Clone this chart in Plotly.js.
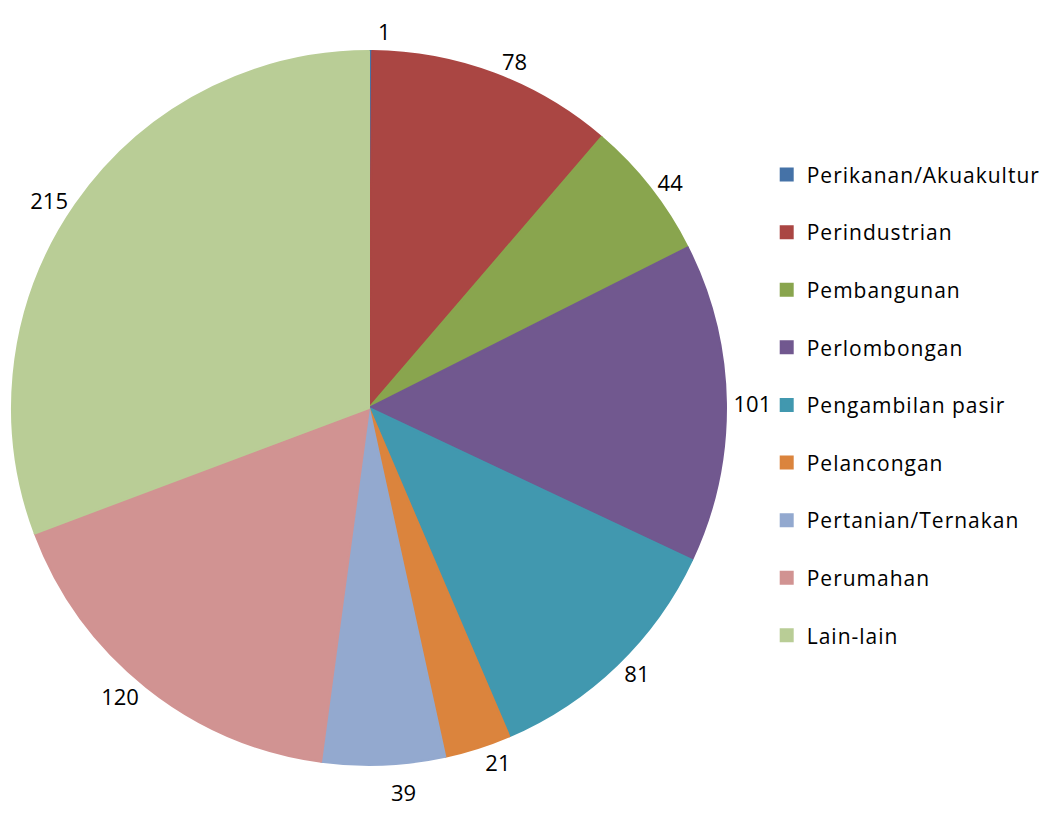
<!DOCTYPE html>
<html>
<head>
<meta charset="utf-8">
<script src="https://cdn.plot.ly/plotly-3.0.1.min.js"></script>
<style>
html,body{margin:0;padding:0;background:#fff;}
#chart{width:1051px;height:817px;}
.legendtext{letter-spacing:1px;}
path.textline{stroke:none !important;}
</style>
</head>
<body>
<div id="chart"></div>
<script>
var categories = ["Perikanan/Akuakultur","Perindustrian","Pembangunan","Perlombongan","Pengambilan pasir","Pelancongan","Pertanian/Ternakan","Perumahan","Lain-lain"];
var counts = [1, 78, 44, 101, 81, 21, 39, 120, 215];
var colors = ["#4572A7","#AA4643","#89A54E","#71588F","#4198AF","#DB843D","#93A9CF","#D19392","#B9CD96"];

var legendLabels = categories.map(function(c){ return c + "<br> "; });

var trace = {
  type: "pie",
  labels: legendLabels,
  values: counts,
  sort: false,
  direction: "clockwise",
  rotation: 0,
  marker: {colors: colors, line: {width: 2, color: colors}},
  textinfo: "value",
  textposition: "outside",
  outsidetextfont: {family: "Open Sans, sans-serif", size: 22, color: "#000"},
  automargin: false,
  domain: {x: [12/1051, 726/1051], y: [52/817, 766/817]},
  hoverinfo: "label+value"
};

var layout = {
  width: 1051, height: 817,
  margin: {l: 0, r: 0, t: 0, b: 0},
  paper_bgcolor: "#fff",
  font: {family: "Open Sans, sans-serif", size: 21, color: "#000"},
  showlegend: true,
  legend: {x: 0.7295, y: 0.811, xanchor: "left", yanchor: "top", valign: "top",
           font: {family: "Open Sans, sans-serif", size: 21, color: "#000"},
           bgcolor: "rgba(0,0,0,0)", traceorder: "normal"}
};

Plotly.newPlot("chart", [trace], layout, {displayModeBar: false, staticPlot: true});
</script>
</body>
</html>
